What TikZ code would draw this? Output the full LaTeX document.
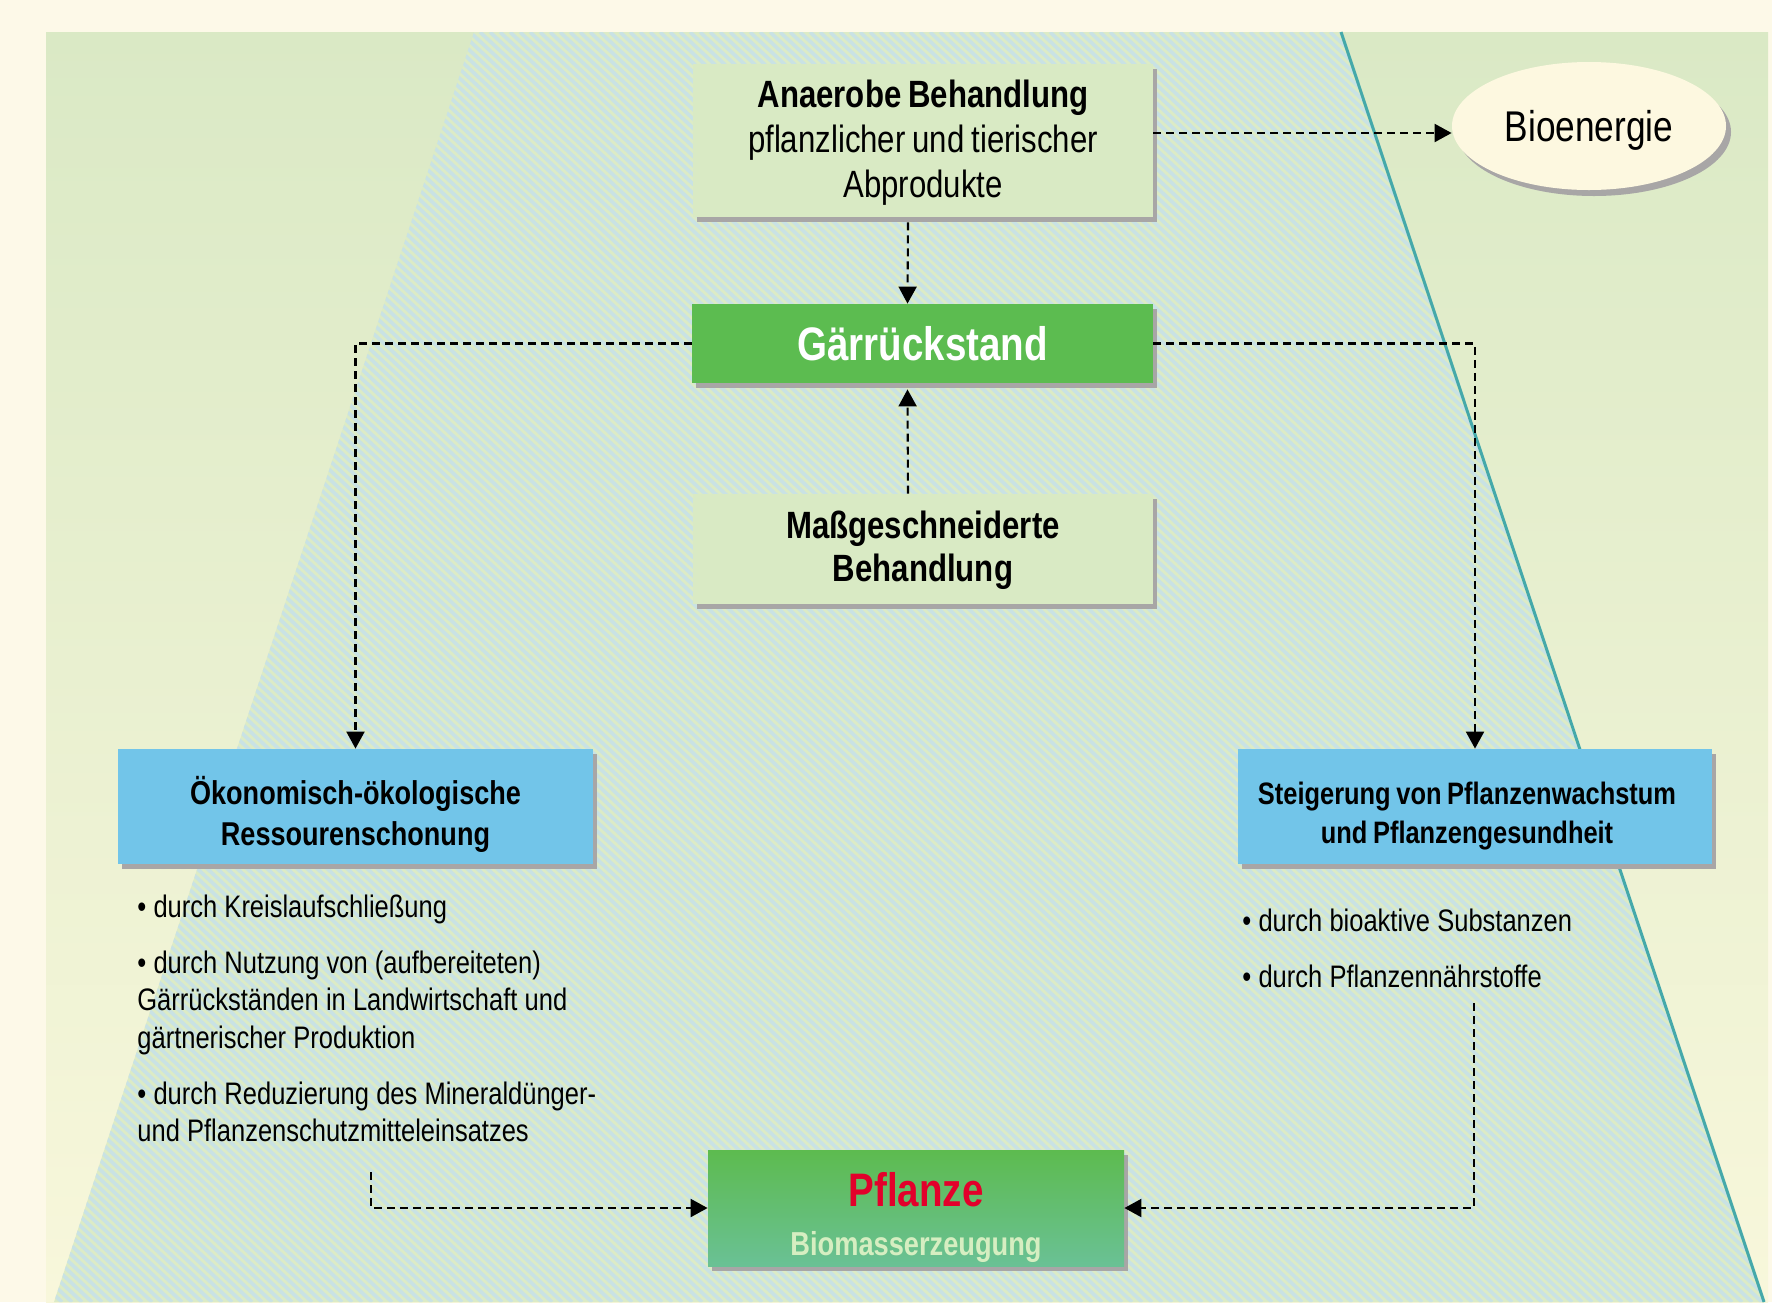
\documentclass[tikz,border=0pt]{standalone}
\usepackage{fontspec}
\setmainfont[FakeStretch=0.82,WordSpace=0.8]{Liberation Sans}
\usetikzlibrary{arrows.meta,shapes.geometric,shadows}
\definecolor{cream}{HTML}{FDF9E8}
\definecolor{bgtop}{HTML}{DAE9C5}
\definecolor{bgbot}{HTML}{F8F7DB}
\definecolor{trapc}{HTML}{DCEBC6}
\definecolor{stripec}{HTML}{C9E2E4}
\definecolor{tealc}{HTML}{45A9AA}
\definecolor{lightbox}{HTML}{D9EAC4}
\definecolor{shadowc}{HTML}{A8A6A6}
\definecolor{garc}{HTML}{5CBC50}
\definecolor{bluec}{HTML}{72C5E9}
\definecolor{pfltop}{HTML}{5DBB4F}
\definecolor{pflbot}{HTML}{6AC195}
\definecolor{pflred}{HTML}{E3002B}
\definecolor{palec}{HTML}{D6EEC1}
\definecolor{ellc}{HTML}{FDF8E0}
\newcommand\bulsp{\setlength{\spaceskip}{3.6pt plus 0.5pt minus 0.3pt}\setlength{\xspaceskip}{3.6pt}}
\begin{document}
\begin{tikzpicture}[x=0.5pt,y=-0.5pt,
  box/.style={rectangle, inner sep=0pt, align=center,
    general shadow={fill=shadowc, shadow xshift=2pt, shadow yshift=-2.5pt}},
  arr/.style={draw=black, line width=1.05pt, dash pattern=on 4pt off 2.5pt,
    -{Triangle[length=8.5pt,width=9pt]}},
  bullets/.style={anchor=base west, inner sep=0pt, align=left, text width=280pt,
    font=\fontsize{15.55}{18.75}\selectfont}
]
\useasboundingbox (0,0) rectangle (1772,1302);
% background
\fill[cream] (0,0) rectangle (1772,1302);
\shade[top color=bgtop, bottom color=bgbot] (46,32) rectangle (1768,1302);
% trapezoid with stripes
\fill[trapc] (474,32) -- (1341,32) -- (1764,1302) -- (54,1302) -- cycle;
\begin{scope}
  \clip (474,32) -- (1341,32) -- (1764,1302) -- (54,1302) -- cycle;
  \foreach \k in {-1320,-1310,...,1350}
    \draw[stripec, line width=1.8pt] (\k,32) -- ++(1362,1270);
\end{scope}
\draw[tealc, line width=1.5pt] (1341,32) -- (1764,1302);

% nodes
\node[box, fill=lightbox, minimum width=230pt, minimum height=76.5pt,
  font=\fontsize{19}{22.5}\selectfont] (anaerobe) at (923,140.5)
  {\rule{0pt}{15.5pt}\textbf{Anaerobe Behandlung}\\pflanzlicher und tierischer\\Abprodukte};
\node[ellipse, inner sep=0pt, fill=ellc, minimum width=137pt, minimum height=64pt,
  text depth=0pt,
  general shadow={fill=shadowc, shadow xshift=2.5pt, shadow yshift=-3pt},
  font=\fontsize{21.5}{24}\selectfont] (bio) at (1589,126) {Bioenergie};
\node[box, fill=garc, minimum width=230.5pt, minimum height=39.5pt, text=white,
  font=\bfseries\fontsize{23.5}{26}\selectfont] (gar) at (922.5,343.5) {Gärrückstand};
\node[box, fill=lightbox, minimum width=230pt, minimum height=55pt,
  font=\bfseries\fontsize{19}{21.5}\selectfont] (mass) at (923,549)
  {\rule{0pt}{15.5pt}Maßgeschneiderte\\Behandlung};
\node[box, fill=bluec, minimum width=237.5pt, minimum height=57.5pt,
  font=\bfseries\fontsize{16.5}{20.5}\selectfont] (oko) at (355.5,806.5)
  {\rule{0pt}{21.5pt}Ökonomisch-ökologische\\Ressourenschonung};
\node[box, fill=bluec, minimum width=237pt, minimum height=57.5pt,
  font=\bfseries\fontsize{15.5}{19.5}\selectfont] (steig) at (1475,806.5)
  {\rule{0pt}{21pt}Steigerung von Pflanzenwachstum\hspace*{8pt}\\und Pflanzengesundheit\hspace*{8pt}};
\node[box, shade, top color=pfltop, bottom color=pflbot, minimum width=208pt, minimum height=58pt,
  font=\bfseries\fontsize{16.6}{24.5}\selectfont] (pflanze) at (916,1208)
  {\rule{0pt}{26pt}{\fontsize{23.5}{24.5}\selectfont\color{pflred}Pflanze}\\{\color{palec}Biomasserzeugung}};

% bullet texts
\node[bullets] (lefttext) at (137,917)
  {\bulsp • durch Kreislaufschließung\\[9.25pt]
   • durch Nutzung von (aufbereiteten)\\
   Gärrückständen in Landwirtschaft und\\
   gärtnerischer Produktion\\[9.25pt]
   • durch Reduzierung des Mineraldünger-\\
   und Pflanzenschutzmitteleinsatzes};
\node[bullets] (righttext) at (1242,931)
  {\bulsp • durch bioaktive Substanzen\\[9.25pt]
   • durch Pflanzennährstoffe};

% connectors
\coordinate (lstart) at (371,1172);
\coordinate (rstart) at (1474,1003);
\draw[arr] ([yshift=3.75pt]anaerobe.east) -- ([yshift=-3.5pt]bio.west);
\draw[arr] ([xshift=-7.5pt,yshift=-2.5pt]anaerobe.south) -- ([xshift=-7.5pt]gar.north);
\draw[arr] ([xshift=-7.5pt]mass.north) -- ([xshift=-7.5pt,yshift=-3pt]gar.south);
\draw[arr] (gar.west) -| (oko.north);
\draw[arr] (gar.east) -| (steig.north);
\draw[arr] (lstart) |- (pflanze.west);
\draw[arr] (rstart) |- (pflanze.east);
\end{tikzpicture}
\end{document}
